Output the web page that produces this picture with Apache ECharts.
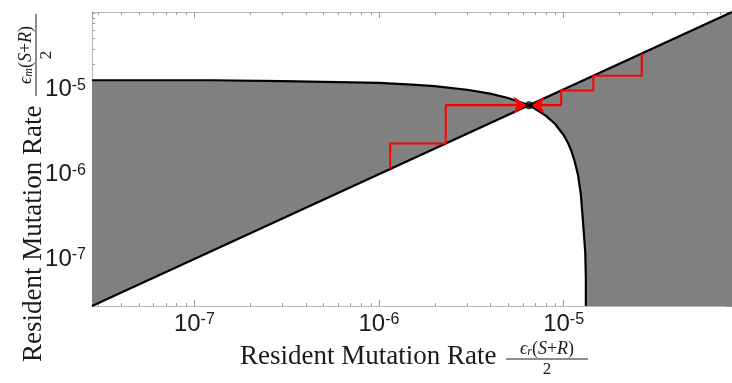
<!DOCTYPE html>
<html><head><meta charset="utf-8">
<script src="https://cdn.jsdelivr.net/npm/echarts@6/dist/echarts.min.js"></script>
<style>html,body{margin:0;padding:0;background:#fff}#c{width:732px;height:383px}</style>
</head><body><div id="c"></div>
<script>
// ---- data ----
const axisMin = 2.79e-8, axisMax = 8.17e-5;
const majorExponents = [-7, -6, -5];
const minorDecades = [1e-8, 1e-7, 1e-6, 1e-5];
const minorMultipliers = [2, 3, 4, 5, 6, 7, 8, 9];
// boundary curve, upper-left branch (x increasing to the fixed point)
const upperX = [2.79e-8, 1.25e-7, 3e-7, 6e-7, 1e-6, 1.5e-6, 2e-6, 3e-6, 4e-6, 5e-6, 6e-6, 6.5e-6];
const upperY = [1.28e-5, 1.28e-5, 1.25e-5, 1.22e-5, 1.19e-5, 1.14e-5, 1.09e-5, 9.9e-6, 8.9e-6, 7.9e-6, 6.9e-6, 6.5e-6];
// boundary curve, lower-right branch (from the fixed point down to the bottom)
const lowerX = [6.5e-6, 7e-6, 8e-6, 9e-6, 1e-5, 1.05e-5, 1.1e-5, 1.15e-5, 1.2e-5, 1.24e-5, 1.27e-5, 1.29e-5, 1.31e-5, 1.32e-5, 1.32e-5];
const lowerY = [6.5e-6, 5.9e-6, 4.9e-6, 3.9e-6, 2.9e-6, 2.4e-6, 1.9e-6, 1.4e-6, 9.5e-7, 5.8e-7, 3e-7, 1.9e-7, 1.2e-7, 6e-8, 2.79e-8];
// diagonal y = x end points
const diagX = [axisMin, axisMax];
const diagY = [axisMin, axisMax];
// fixed point
const dotX = [6.5e-6], dotY = [6.5e-6];
// red staircases
const leftStairX = [1.15e-6, 1.15e-6, 2.3e-6, 2.3e-6, 6.3e-6];
const leftStairY = [1.15e-6, 2.3e-6, 2.3e-6, 6.5e-6, 6.5e-6];
const rightStairX = [2.65e-5, 2.65e-5, 1.45e-5, 1.45e-5, 9.7e-6, 9.7e-6, 6.7e-6];
const rightStairY = [2.65e-5, 1.45e-5, 1.45e-5, 9.7e-6, 9.7e-6, 6.5e-6, 6.5e-6];

// ---- build ----
const zip = (a, b) => a.map((v, i) => [v, b[i]]);
const minorVals = [];
minorDecades.forEach(d => minorMultipliers.forEach(m => { const v = m * d; if (v > axisMin && v < axisMax) minorVals.push(v); }));

const LS = '"Liberation Sans", Arial, sans-serif';
const SERIF = '"Liberation Serif", "DejaVu Serif", serif';
const rich = {
  a: {fontSize: 24, fontFamily: LS, color: '#1a1a1a'},
  b: {fontSize: 16, fontFamily: LS, color: '#1a1a1a', verticalAlign: 'top', padding: [0, 0, 0, 0]}
};
function fmt(v) {
  const e = Math.log10(v), r = Math.round(e);
  if (Math.abs(e - r) > 0.01 || majorExponents.indexOf(r) < 0) return '';
  return '{a|10}{b|' + r + '}';
}
function mkAxis(pos, showLabel) {
  return {
    type: 'log', logBase: 10, min: axisMin, max: axisMax, position: pos, splitNumber: 3,
    axisLine: {show: true, onZero: false, lineStyle: {color: '#b8b8b8', width: 1}},
    axisTick: {show: true, inside: true, length: 6, lineStyle: {color: '#9a9a9a'}},
    axisLabel: {show: showLabel, formatter: fmt, margin: 6, rich: rich, showMinLabel: false, showMaxLabel: false},
    splitLine: {show: false}, minorTick: {show: false}, minorSplitLine: {show: false}
  };
}

const leftPoly = zip(upperX, upperY).concat([[axisMin, axisMin]]);
const rightPoly = [[dotX[0], dotY[0]], [axisMax, axisMax], [axisMax, axisMin]].concat(zip(lowerX, lowerY).slice().reverse());
const polys = [leftPoly, rightPoly];

function titleGroup(x, y, rot, sub) {
  return {
    type: 'group', x: x, y: y, rotation: rot, silent: true,
    children: [
      {type: 'text', x: 0, y: 0, style: {text: 'Resident Mutation Rate', font: '27px ' + SERIF, fill: '#1a1a1a', verticalAlign: 'middle', align: 'left'}},
      {type: 'text', x: 307, y: -8, style: {
        text: '{g|\u03F5}{s|' + sub + '}{t|(}{i|S}{t|+}{i|R}{t|)}', align: 'center', verticalAlign: 'middle',
        rich: {
          g: {fontSize: 18, fontFamily: SERIF, fontStyle: 'italic', fill: '#1a1a1a'},
          s: {fontSize: 12, fontFamily: SERIF, fontStyle: 'italic', fill: '#1a1a1a', verticalAlign: 'bottom'},
          t: {fontSize: 18, fontFamily: SERIF, fill: '#1a1a1a'},
          i: {fontSize: 18, fontFamily: SERIF, fontStyle: 'italic', fill: '#1a1a1a'}
        }}},
      {type: 'line', shape: {x1: 266, y1: 2, x2: 348, y2: 2}, style: {stroke: '#1a1a1a', lineWidth: 1}},
      {type: 'text', x: 307, y: 13, style: {text: '2', font: '17px ' + SERIF, fill: '#1a1a1a', align: 'center', verticalAlign: 'middle'}}
    ]
  };
}

const option = {
  animation: false,
  backgroundColor: '#fff',
  grid: {left: 92, top: 12, width: 641, height: 294, show: false},
  xAxis: [mkAxis('bottom', true), mkAxis('top', false)],
  yAxis: [mkAxis('left', true), mkAxis('right', false)],
  graphic: [titleGroup(240, 357, 0, 'r'), titleGroup(34, 362, Math.PI / 2, 'm')],
  series: [
    {
      type: 'custom', coordinateSystem: 'cartesian2d', silent: true, z: 1,
      data: [[axisMin, axisMin]],
      renderItem: function (params, api) {
        const cs = params.coordSys, ch = [];
        const st = {stroke: '#9a9a9a', lineWidth: 1};
        minorVals.forEach(v => {
          const px = Math.round(api.coord([v, axisMin])[0]) + 0.5;
          const py = Math.round(api.coord([axisMin, v])[1]) + 0.5;
          ch.push({type: 'line', shape: {x1: px, y1: cs.y + cs.height, x2: px, y2: cs.y + cs.height - 3}, style: st});
          ch.push({type: 'line', shape: {x1: px, y1: cs.y, x2: px, y2: cs.y + 3}, style: st});
          ch.push({type: 'line', shape: {x1: cs.x, y1: py, x2: cs.x + 3, y2: py}, style: st});
          ch.push({type: 'line', shape: {x1: cs.x + cs.width, y1: py, x2: cs.x + cs.width - 3, y2: py}, style: st});
        });
        return {type: 'group', children: ch};
      }
    },
    {
      type: 'custom', coordinateSystem: 'cartesian2d', silent: true, z: 2,
      data: [[1e-6, 1e-6, 0], [1e-6, 1e-6, 1]],
      renderItem: function (params, api) {
        const poly = polys[api.value(2)];
        return {type: 'polygon', shape: {points: poly.map(p => api.coord(p))}, style: {fill: '#808080', stroke: null}};
      }
    },
    {type: 'line', data: zip(upperX, upperY).concat(zip(lowerX, lowerY).slice(1)), showSymbol: false, symbol: 'none', z: 3,
     lineStyle: {color: '#000', width: 2.2}},
    {type: 'line', data: zip(diagX, diagY), showSymbol: false, symbol: 'none', z: 3, lineStyle: {color: '#000', width: 2.2}},
    {type: 'line', data: zip(leftStairX, leftStairY), showSymbol: false, symbol: 'none', z: 4, lineStyle: {color: '#ff0000', width: 2}},
    {type: 'line', data: zip(rightStairX, rightStairY), showSymbol: false, symbol: 'none', z: 4, lineStyle: {color: '#ff0000', width: 2}},
    {type: 'lines', coordinateSystem: 'cartesian2d', z: 5, symbol: ['none', 'arrow'], symbolSize: 13,
     lineStyle: {color: '#ff0000', width: 2, opacity: 1},
     data: [
       {coords: [[leftStairX[3], leftStairY[3]], [leftStairX[4], leftStairY[4]]]},
       {coords: [[rightStairX[5], rightStairY[5]], [rightStairX[6], rightStairY[6]]]}
     ]},
    {type: 'scatter', data: zip(dotX, dotY), symbol: 'circle', symbolSize: 8, z: 6, itemStyle: {color: '#000'}}
  ]
};
const chart = echarts.init(document.getElementById('c'));
chart.setOption(option);
</script></body></html>
